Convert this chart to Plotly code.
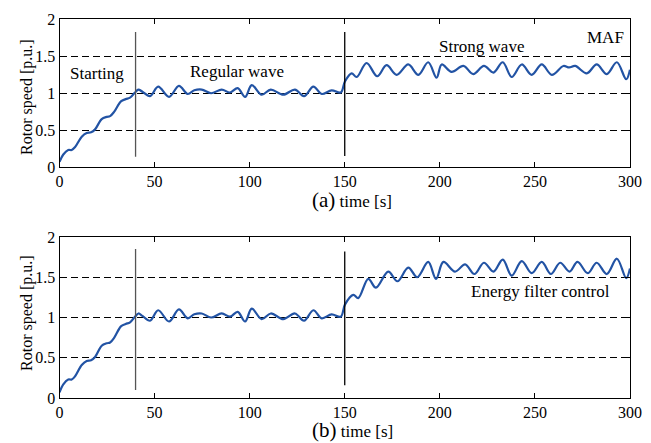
import plotly.graph_objects as go

# shared start-up + regular wave part (both panels look the same up to 150 s)
t_start = [0, 2, 4.6, 6.4, 8.2, 11.7, 14.3, 16.6, 18.7, 22.2, 24.8, 26.6, 28.8, 32.3, 34.8, 37.1,
           39.7, 41.5, 43.6, 47.6, 51.9, 57.6, 62.8, 67.4, 70.9, 74.8, 79.7, 85.3, 89.7, 93.7,
           97.6, 101.1, 106.3, 111.1, 117.7, 123.8, 128.6, 133.5, 137.9, 143.1, 147.9]
v_start = [0.07, 0.17, 0.23, 0.23, 0.27, 0.41, 0.46, 0.47, 0.51, 0.65, 0.68, 0.69, 0.75, 0.89, 0.92, 0.94,
           1.01, 1.05, 1.02, 0.96, 1.09, 0.95, 1.10, 0.99, 1.04, 1.05, 1.00, 1.05, 1.01, 1.07,
           0.95, 1.11, 0.98, 1.05, 0.98, 1.05, 0.96, 1.09, 0.99, 1.04, 1.01]

# (a) MAF, strong wave part
t_maf = [150.1, 153.6, 156.3, 161.5, 167.1, 172, 177.3, 183.4, 188.7, 193.9, 198.3, 201, 206.2, 212.4,
         217.6, 223.2, 228.2, 233.1, 237.8, 243.1, 248.3, 253.6, 258.9, 265, 268, 271.2, 277.3, 282.5,
         287.8, 293.1, 298, 300]
v_maf = [1.16, 1.27, 1.22, 1.41, 1.23, 1.38, 1.25, 1.39, 1.25, 1.42, 1.21, 1.39, 1.29, 1.37,
         1.26, 1.37, 1.28, 1.42, 1.22, 1.39, 1.25, 1.39, 1.25, 1.37, 1.35, 1.37, 1.27, 1.39,
         1.26, 1.42, 1.19, 1.32]

# (b) energy filter control, strong wave part
t_efc = [150.1, 154.5, 157.1, 162.4, 166.4, 172.9, 177.7, 183.4, 188.1, 193.9, 198.0, 201.9, 208.0,
         213.3, 218.2, 223.2, 228.2, 233.1, 237.8, 243.1, 248.3, 253.6, 258.4, 263.3, 268.2, 272.4,
         277.8, 282.5, 287.8, 293.1, 298.0, 300.0]
v_efc = [1.16, 1.28, 1.24, 1.48, 1.37, 1.57, 1.45, 1.62, 1.50, 1.69, 1.48, 1.69, 1.57,
         1.66, 1.54, 1.68, 1.57, 1.72, 1.52, 1.70, 1.55, 1.69, 1.54, 1.68, 1.57, 1.69,
         1.55, 1.68, 1.54, 1.73, 1.49, 1.61]

xticks = [0, 50, 100, 150, 200, 250, 300]
yticks = [0, 0.5, 1, 1.5, 2]
ytick_text = ["0", "0.5", "1", "1.5", "2"]

SERIF = "Liberation Serif"
BLUE = "#2253a4"

fig = go.Figure()
fig.add_trace(go.Scatter(x=t_start + t_maf, y=v_start + v_maf, mode="lines",
                         line=dict(color=BLUE, width=2.2, shape="spline", smoothing=1.0),
                         xaxis="x", yaxis="y", showlegend=False))
fig.add_trace(go.Scatter(x=t_start + t_efc, y=v_start + v_efc, mode="lines",
                         line=dict(color=BLUE, width=2.2, shape="spline", smoothing=1.0),
                         xaxis="x2", yaxis="y2", showlegend=False))

xax = dict(range=[0, 300], tickvals=xticks, ticks="inside", ticklen=5, tickcolor="black",
           showline=True, linecolor="black", linewidth=1, mirror="ticks", showgrid=False,
           zeroline=False, automargin=False, tickfont=dict(family=SERIF, size=16, color="black"))
yax = dict(range=[0, 2], tickvals=yticks, ticktext=ytick_text, ticks="inside", ticklen=5,
           tickcolor="black", showline=True, linecolor="black", linewidth=1, mirror="ticks",
           showgrid=True, gridcolor="black", gridwidth=1, griddash="7px,4px", zeroline=False,
           automargin=False, tickfont=dict(family=SERIF, size=16, color="black"))

# the page body has an 8px margin, so the figure is 8px smaller each way
fig.update_layout(
    width=643, height=435,
    margin=dict(l=0, r=0, t=0, b=0, autoexpand=False),
    paper_bgcolor="white", plot_bgcolor="white",
    xaxis=dict(xax, domain=[0.0801, 0.9673], anchor="y"),
    yaxis=dict(yax, domain=[0.6345, 0.9736], anchor="x"),
    xaxis2=dict(xax, domain=[0.0801, 0.9673], anchor="y2"),
    yaxis2=dict(yax, domain=[0.1034, 0.4736], anchor="x2"),
)

# separators between the sea states
for xr, yr, ends in [("x", "y", {40: (0.14, 1.83), 150: (0.15, 1.83)}),
                     ("x2", "y2", {40: (0.1, 1.85), 150: (0.16, 1.82)})]:
    for xv, (y0, y1) in ends.items():
        fig.add_shape(type="line", xref=xr, yref=yr, x0=xv, x1=xv, y0=y0, y1=y1,
                      line=dict(color="#555555" if xv == 40 else "black", width=1.3))

labels = [("Starting", 19.7, 1.27, "x", "y"),
          ("Regular wave", 93.4, 1.29, "x", "y"),
          ("Strong wave", 222, 1.63, "x", "y"),
          ("MAF", 287, 1.75, "x", "y"),
          ("Energy filter control", 252.7, 1.32, "x2", "y2")]
for txt, xv, yv, xr, yr in labels:
    fig.add_annotation(text=txt, x=xv, y=yv, xref=xr, yref=yr, showarrow=False,
                       font=dict(family=SERIF, size=17, color="black"))

for lab, yc in [("(a)", 0.5586), ("(b)", 0.0299)]:
    fig.add_annotation(text="<span style='font-size:21px'>" + lab + "</span> time [s]",
                       x=0.535, y=yc, xref="paper", yref="paper", showarrow=False,
                       xanchor="center", yanchor="middle",
                       font=dict(family=SERIF, size=17, color="black"))

for yc in [0.7954, 0.2989]:
    fig.add_annotation(text="Rotor speed [p.u.]", x=0.0295, y=yc, xref="paper", yref="paper",
                       textangle=-90, showarrow=False, xanchor="center", yanchor="middle",
                       font=dict(family=SERIF, size=16, color="black"))

fig.write_html("out.html")
